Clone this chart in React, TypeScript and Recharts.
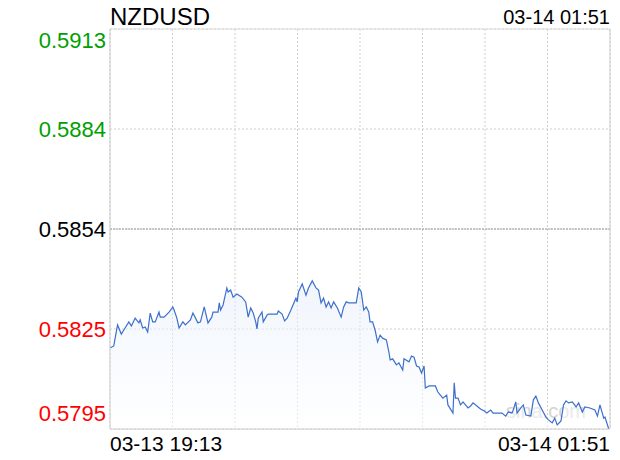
import React from 'react';
import { AreaChart, Area, XAxis, YAxis, CartesianGrid, ReferenceLine } from 'recharts';

// minutes since 03-13 19:13
const minutes = [
  0, 3, 6, 9, 11, 15, 17, 20, 23, 24, 26, 28, 30, 32, 34, 36, 39, 40, 43, 47,
  50, 51, 53, 55, 58, 60, 64, 66, 70, 72, 75, 78, 81, 82, 86, 87, 88, 90, 93, 94,
  96, 98, 101, 105, 108, 110, 112, 114, 116, 117, 118, 121, 122, 125, 126, 133, 134, 137, 139, 141,
  144, 146, 148, 149, 150, 153, 156, 158, 161, 164, 166, 168, 170, 172, 174, 176, 178, 181, 184, 186,
  188, 190, 196, 198, 200, 202, 204, 206, 207, 209, 211, 213, 215, 217, 220, 222, 223, 225, 228, 230,
  233, 234, 238, 240, 242, 244, 246, 248, 250, 251, 254, 259, 261, 263, 265, 268, 269, 273, 274, 275,
  277, 279, 281, 285, 287, 289, 293, 295, 298, 300, 303, 305, 312, 315, 317, 320, 321, 323, 324, 327,
  329, 331, 335, 337, 339, 341, 344, 347, 349, 352, 354, 356, 359, 361, 363, 365, 368, 371, 373, 376,
  378, 382, 386, 388, 390, 393, 394, 397,
];

const prices = [
  0.58189, 0.58195, 0.58257, 0.5823, 0.58242, 0.58266, 0.58254, 0.58277, 0.58263, 0.58272,
  0.58248, 0.58251, 0.58236, 0.58292, 0.58266, 0.58266, 0.58295, 0.5828, 0.5828, 0.58295,
  0.5831, 0.58301, 0.5828, 0.58248, 0.58266, 0.58257, 0.58272, 0.58292, 0.58263, 0.58266,
  0.5831, 0.58263, 0.5828, 0.58295, 0.58295, 0.58322, 0.58301, 0.58316, 0.58366, 0.58354,
  0.5836, 0.58339, 0.58348, 0.58339, 0.58325, 0.5828, 0.58307, 0.58292, 0.58266, 0.58245,
  0.58277, 0.58295, 0.58266, 0.58286, 0.58289, 0.58289, 0.58298, 0.58289, 0.58269, 0.58277,
  0.58301, 0.58319, 0.58336, 0.58325, 0.58354, 0.58378, 0.58345, 0.58366, 0.58387, 0.58366,
  0.5836, 0.58322, 0.58336, 0.5831, 0.58325, 0.58307, 0.58325, 0.58307, 0.5828, 0.5831,
  0.58325, 0.58322, 0.58322, 0.58366, 0.58354, 0.58301, 0.5831, 0.58295, 0.58266, 0.58266,
  0.58242, 0.58207, 0.58227, 0.58218, 0.58213, 0.58177, 0.58154, 0.58157, 0.58139, 0.58145,
  0.58124, 0.58157, 0.58148, 0.58165, 0.58162, 0.58136, 0.58133, 0.58115, 0.58136, 0.58071,
  0.58077, 0.58077, 0.58059, 0.5805, 0.58041, 0.5805, 0.58021, 0.57997, 0.58086, 0.58041,
  0.58041, 0.58021, 0.5803, 0.58012, 0.58018, 0.58027, 0.58015, 0.58009, 0.58003, 0.57997,
  0.58006, 0.57997, 0.57997, 0.57988, 0.58, 0.57997, 0.58006, 0.5803, 0.57997, 0.58012,
  0.58021, 0.57991, 0.57988, 0.58036, 0.58047, 0.58027, 0.58006, 0.57985, 0.57977, 0.57968,
  0.57982, 0.57962, 0.57974, 0.58021, 0.58033, 0.58027, 0.5803, 0.58015, 0.58027, 0.58,
  0.58015, 0.58012, 0.58006, 0.57988, 0.58021, 0.57982, 0.57985, 0.5795,
];

const symbol = 'NZDUSD';
const lastTime = '03-14 01:51';
const prevClose = 0.5854;

const yTicks = [0.5913, 0.58835, 0.5854, 0.58245, 0.5795];
const yTickLabels = ['0.5913', '0.5884', '0.5854', '0.5825', '0.5795'];
const xGridTicks = [0, 49.75, 99.5, 149.25, 199, 248.75, 298.5, 348.25, 398];
const xTickLabels = ['03-13 19:13', '03-14 01:51'];

const data = minutes.map((t, i) => ({ t, v: prices[i] }));

const FONT = '"Liberation Sans", Arial, sans-serif';

const YTick = ({ y, index }: any) => {
  const label = yTickLabels[index];
  const val = yTicks[index];
  const color = val > prevClose + 1e-6 ? '#00a000' : val < prevClose - 1e-6 ? '#ff0000' : '#000';
  let dy = 0;
  if (index === 0) dy = 11; // keep top label inside
  if (index === yTicks.length - 1) dy = -16;
  return (
    <text x={106} y={y + dy} textAnchor="end" dominantBaseline="central"
      fill={color} fontSize={22} fontFamily={FONT}>
      {label}
    </text>
  );
};

const XTick = ({ x, index }: any) => {
  if (index === 0) {
    return <text x={x} y={443} textAnchor="start" dominantBaseline="central" fill="#000" fontSize={21} fontFamily={FONT}>{xTickLabels[0]}</text>;
  }
  if (index === xGridTicks.length - 1) {
    return <text x={x} y={443} textAnchor="end" dominantBaseline="central" fill="#000" fontSize={21} fontFamily={FONT}>{xTickLabels[1]}</text>;
  }
  return null;
};

const App: React.FC = () => {
  return (
    <div style={{ position: 'absolute', left: 0, top: 0, width: 620, height: 460, background: '#fff', fontFamily: FONT }}>
      <div style={{ position: 'absolute', left: 110, top: 3, fontSize: 24, lineHeight: '28px', color: '#000' }}>{symbol}</div>
      <div style={{ position: 'absolute', right: 10, top: 5, fontSize: 20, lineHeight: '24px', color: '#000' }}>{lastTime}</div>
      <div style={{ position: 'absolute', left: 506, top: 399, fontSize: 20, lineHeight: '24px', color: '#d4d4d4' }}>sina.com</div>
      <AreaChart width={620} height={460} data={data} margin={{ top: 29, right: 10, bottom: 1, left: 10 }}>
        <defs>
          <linearGradient id="fillGrad" x1="0" y1="0" x2="0" y2="1">
            <stop offset="0%" stopColor="#e4edfa" stopOpacity={0.9} />
            <stop offset="100%" stopColor="#ffffff" stopOpacity={0.9} />
          </linearGradient>
        </defs>
        <CartesianGrid stroke="#cfcfcf" strokeDasharray="2 2" horizontalValues={yTicks} verticalValues={xGridTicks} />
        <XAxis type="number" dataKey="t" domain={[0, 398]} ticks={xGridTicks} tick={<XTick />}
          tickLine={false} axisLine={{ stroke: '#cccccc' }} height={30} interval={0} />
        <YAxis type="number" domain={[0.5795, 0.5913]} ticks={yTicks} tick={<YTick />}
          tickLine={false} axisLine={{ stroke: '#cccccc' }} width={100} interval={0} allowDataOverflow />
        <ReferenceLine y={prevClose} stroke="#999999" strokeDasharray="2 1" />
        <ReferenceLine y={0.5913} stroke="#dddddd" />
        <ReferenceLine x={398} stroke="#cccccc" />
        <Area type="linear" dataKey="v" stroke="#3d6fcc" strokeWidth={1.2} fill="url(#fillGrad)"
          isAnimationActive={false} dot={false} activeDot={false} />
      </AreaChart>
    </div>
  );
};

export default App;
